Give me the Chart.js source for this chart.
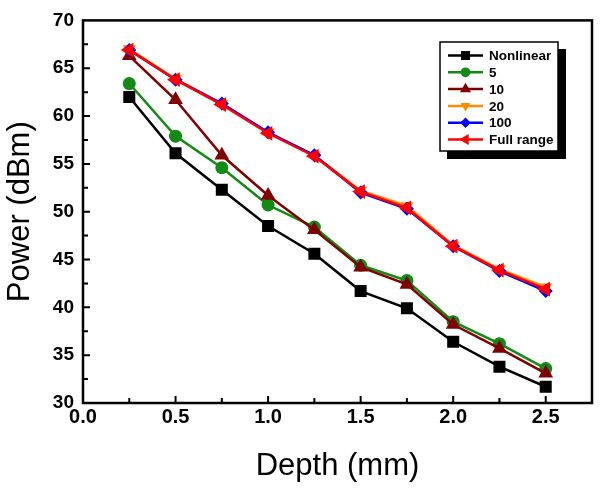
<!DOCTYPE html>
<html>
<head>
<meta charset="utf-8">
<script src="https://cdn.jsdelivr.net/npm/chart.js@4/dist/chart.umd.min.js"></script>
<style>
  html, body { margin: 0; padding: 0; background: #fff; }
  #wrap { width: 602px; height: 491px; }
</style>
</head>
<body>
<div id="wrap"><canvas id="TChart" width="602" height="491"></canvas></div>
<script>
// values
var depth     = [0.25, 0.5, 0.75, 1.0, 1.25, 1.5, 1.75, 2.0, 2.25, 2.5];
var nonlinear = [62.0, 56.1, 52.3, 48.5, 45.6, 41.7, 39.9, 36.4, 33.8, 31.7];
var p5        = [63.4, 57.9, 54.6, 50.7, 48.4, 44.4, 42.8, 38.5, 36.2, 33.6];
var p10       = [66.3, 61.7, 55.9, 51.7, 48.1, 44.2, 42.4, 38.2, 35.7, 33.1];
var p20       = [67.0, 63.9, 61.3, 58.3, 55.9, 52.2, 50.6, 46.5, 44.0, 42.1];
var p100      = [66.9, 63.8, 61.3, 58.3, 55.9, 52.0, 50.3, 46.4, 43.8, 41.7];
var fullRange = [66.9, 63.8, 61.2, 58.2, 55.8, 52.1, 50.4, 46.4, 43.9, 41.9];

var seriesNames = ["Nonlinear", "5", "10", "20", "100", "Full range"];
var xTicks = [0.0, 0.5, 1.0, 1.5, 2.0, 2.5];

function pts(ys) {
  return ys.map(function (y, i) { return { x: depth[i], y: y }; });
}

function ds(label, ys, color, style, rot, r, order) {
  return {
    label: label,
    data: pts(ys),
    borderColor: color,
    backgroundColor: color,
    borderWidth: 2.5,
    pointStyle: style,
    rotation: rot,
    pointRadius: r,
    pointBorderWidth: 0,
    pointBackgroundColor: color,
    fill: false,
    tension: 0,
    order: order
  };
}

var datasets = [
  ds(seriesNames[0], nonlinear, "#000000", "rect", 0, 8.5, 5),
  ds(seriesNames[1], p5, "#138a13", "circle", 0, 6.5, 4),
  ds(seriesNames[2], p10, "#800000", "triangle", 0, 8.5, 3),
  ds(seriesNames[3], p20, "#ff8c00", "triangle", 180, 7.5, 2),
  ds(seriesNames[4], p100, "#0000ff", "rectRot", 0, 7, 1),
  ds(seriesNames[5], fullRange, "#ff0000", "triangle", -90, 8.5, 0)
];

// frame, inward ticks and boxed legend with shadow
var decor = {
  id: "decor",
  afterDatasetsDraw: function (chart) {
    var ctx = chart.ctx;
    var a = chart.chartArea;
    var xs = chart.scales.x, ys = chart.scales.y;
    ctx.save();
    ctx.strokeStyle = "#000";
    ctx.lineWidth = 2.5;
    ctx.strokeRect(a.left, a.top, a.right - a.left, a.bottom - a.top);

    ctx.lineWidth = 2;
    ctx.beginPath();
    for (var v = 0.25; v < 2.75; v += 0.25) {
      var px = xs.getPixelForValue(v);
      var len = (Math.round(v * 4) % 2 === 0) ? 7 : 5;
      ctx.moveTo(px, a.bottom);
      ctx.lineTo(px, a.bottom - len);
    }
    for (var w = 32.5; w < 70; w += 2.5) {
      var py = ys.getPixelForValue(w);
      var l2 = (Math.round(w * 2) % 10 === 0) ? 7 : 5;
      ctx.moveTo(a.left, py);
      ctx.lineTo(a.left + l2, py);
    }
    ctx.stroke();

    // legend box
    var bx = 440, by = 42, bw = 118, bh = 109;
    ctx.fillStyle = "#000";
    ctx.fillRect(bx + 7, by + 7, bw + 1, bh + 1);
    ctx.fillStyle = "#fff";
    ctx.fillRect(bx, by, bw, bh);
    ctx.lineWidth = 1.5;
    ctx.strokeRect(bx, by, bw, bh);

    ctx.font = "bold 13.5px Arial, 'Liberation Sans', sans-serif";
    ctx.textBaseline = "middle";
    ctx.textAlign = "left";
    var drawPoint = Chart.helpers && Chart.helpers.drawPoint;
    chart.data.datasets.forEach(function (d, i) {
      var y = 55.5 + i * 16.8;
      ctx.strokeStyle = d.borderColor;
      ctx.lineWidth = 2.5;
      ctx.beginPath();
      ctx.moveTo(448, y);
      ctx.lineTo(483, y);
      ctx.stroke();
      if (drawPoint) {
        ctx.fillStyle = d.borderColor;
        drawPoint(ctx, { pointStyle: d.pointStyle, rotation: d.rotation, radius: d.pointRadius * 0.75, borderWidth: 0 }, 465.5, y);
      }
      ctx.fillStyle = "#000";
      ctx.fillText(d.label, 489, y + 1);
    });
    ctx.restore();
  }
};

new Chart(document.getElementById("TChart"), {
  type: "line",
  data: { datasets: datasets },
  plugins: [decor],
  options: {
    responsive: false,
    devicePixelRatio: 1,
    animation: false,
    layout: { padding: { top: 17, right: 10, left: 0, bottom: 0 } },
    plugins: { legend: { display: false }, tooltip: { enabled: false } },
    scales: {
      x: {
        type: "linear",
        min: 0,
        max: 2.75,
        afterFit: function (s) { s.height = 88; },
        afterBuildTicks: function (s) {
          s.ticks = xTicks.map(function (v) { return { value: v }; });
        },
        ticks: {
          color: "#000",
          padding: 2,
          maxRotation: 0,
          font: { family: "Arial, 'Liberation Sans', sans-serif", size: 20, weight: "bold" },
          callback: function (v) { return v.toFixed(1); }
        },
        grid: { display: false, drawTicks: false },
        border: { display: false },
        title: {
          display: true,
          text: "Depth (mm)",
          color: "#000",
          font: { family: "Arial, 'Liberation Sans', sans-serif", size: 31 },
          padding: { top: 0, bottom: 6 }
        }
      },
      y: {
        min: 30,
        max: 70,
        afterFit: function (s) { s.width = 83; },
        ticks: {
          stepSize: 5,
          color: "#000",
          padding: 9,
          font: { family: "Arial, 'Liberation Sans', sans-serif", size: 19, weight: "bold" }
        },
        grid: { display: false, drawTicks: false },
        border: { display: false },
        title: {
          display: true,
          text: "Power (dBm)",
          color: "#000",
          font: { family: "Arial, 'Liberation Sans', sans-serif", size: 31 },
          padding: { top: 2, bottom: 0 }
        }
      }
    }
  }
});
</script>
</body>
</html>
